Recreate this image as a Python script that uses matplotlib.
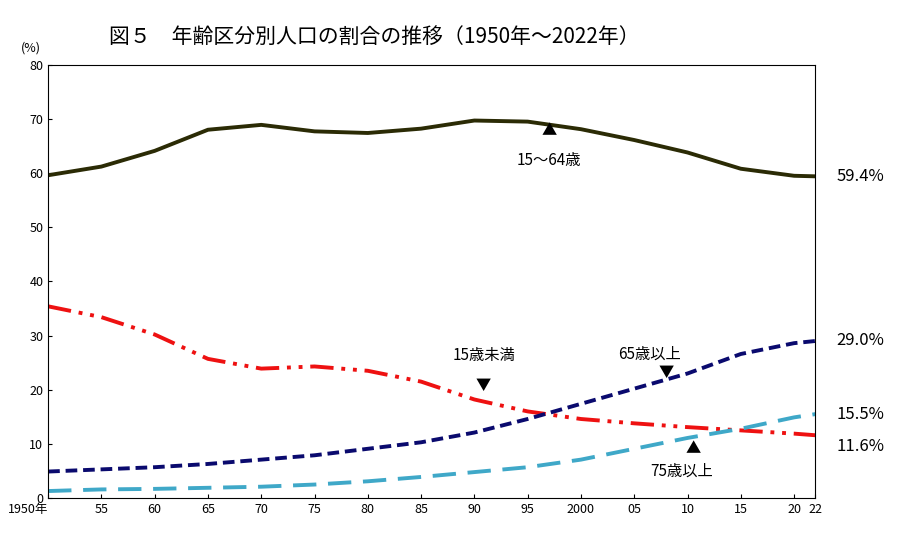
import numpy as np
import matplotlib
matplotlib.use("Agg")
import matplotlib.pyplot as plt

plt.rcParams['font.family'] = ['Noto Sans CJK JP', 'DejaVu Sans']

years = [1950, 1955, 1960, 1965, 1970, 1975, 1980, 1985, 1990, 1995, 2000, 2005, 2010, 2015, 2020, 2022]
age_15_64 = [59.6, 61.2, 64.1, 68.0, 68.9, 67.7, 67.4, 68.2, 69.7, 69.5, 68.1, 66.1, 63.8, 60.8, 59.5, 59.4]
age_under15 = [35.4, 33.4, 30.2, 25.7, 23.9, 24.3, 23.5, 21.5, 18.2, 16.0, 14.6, 13.8, 13.1, 12.5, 11.9, 11.6]
age_65plus = [4.9, 5.3, 5.7, 6.3, 7.1, 7.9, 9.1, 10.3, 12.1, 14.6, 17.4, 20.2, 23.0, 26.6, 28.6, 29.0]
age_75plus = [1.3, 1.6, 1.7, 1.9, 2.1, 2.5, 3.1, 3.9, 4.8, 5.7, 7.1, 9.1, 11.1, 12.8, 14.9, 15.5]

tick_years = [1950, 1955, 1960, 1965, 1970, 1975, 1980, 1985, 1990, 1995, 2000, 2005, 2010, 2015, 2020, 2022]
tick_labels = ["1950年", "55", "60", "65", "70", "75", "80", "85", "90", "95", "2000", "05", "10", "15", "20", "22"]

fig = plt.figure(figsize=(9.08, 5.35), dpi=100)
ax = fig.add_axes([0.053, 0.069, 0.845, 0.81])

ax.plot(years, age_15_64, color="#2b2b05", lw=2.8)
ax.plot(years, age_under15, color="#ee1111", lw=2.8, dashes=(6, 2, 1, 2, 1, 2))
ax.plot(years, age_65plus, color="#0a0a6e", lw=2.8, dashes=(3, 1.5))
ax.plot(years, age_75plus, color="#3fa8c8", lw=2.8, dashes=(6, 3))

ax.set_xlim(1950, 2022)
ax.set_ylim(0, 80)
ax.set_yticks(range(0, 81, 10))
ax.set_xticks(tick_years)
ax.set_xticklabels(tick_labels, fontsize=9)
ax.get_xticklabels()[0].set_ha('right')
ax.tick_params(axis='y', labelsize=9)
ax.tick_params(direction='in', length=3)
ax.text(-0.01, 1.03, "(%)", transform=ax.transAxes, fontsize=9, ha='right')

ax.text(1997, 67.0, "▲", ha='center', fontsize=11)
ax.text(1997, 61.5, "15～64歳", ha='center', fontsize=11)
ax.text(1988, 25.5, "15歳未満", fontsize=11)
ax.text(1990.8, 20, "▼", ha='center', fontsize=11)
ax.text(2003.5, 25.8, "65歳以上", fontsize=11)
ax.text(2008, 22.3, "▼", ha='center', fontsize=11)
ax.text(2010.5, 8.2, "▲", ha='center', fontsize=11)
ax.text(2006.5, 4.2, "75歳以上", fontsize=11)

for v, y in [(59.4, 59.4), (29.0, 29.0), (15.5, 15.5), (11.6, 9.5)]:
    ax.text(2024, y, f"{v:.1f}%", fontsize=12, va='center')

fig.text(0.12, 0.92, "図５　年齢区分別人口の割合の推移（1950年～2022年）", fontsize=15)

fig.savefig("out.png", dpi=100)
